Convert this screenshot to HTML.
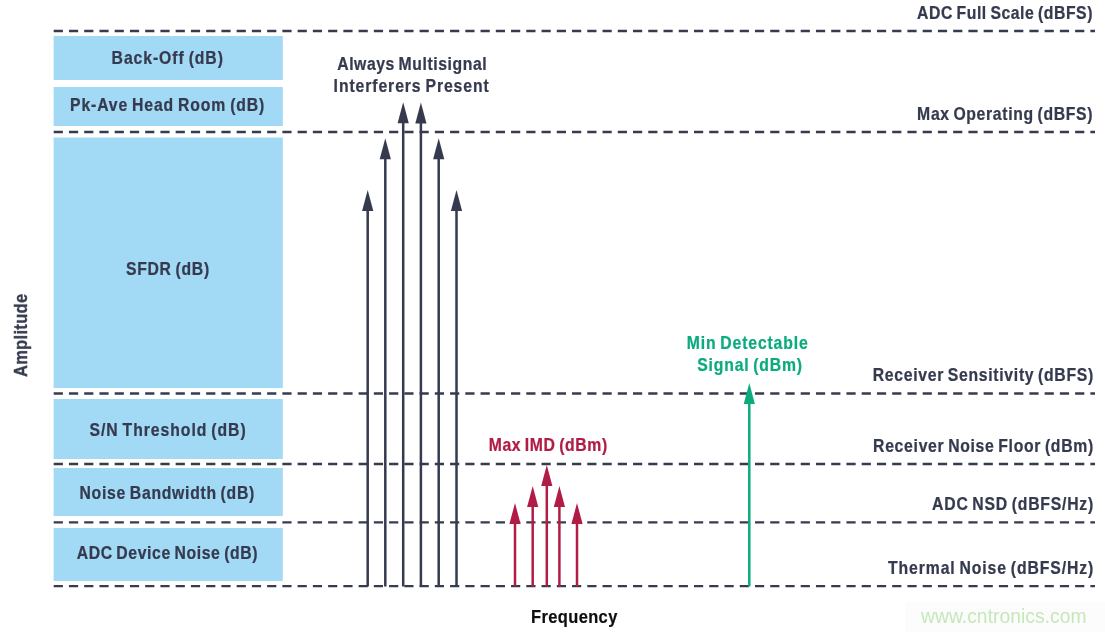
<!DOCTYPE html>
<html><head><meta charset="utf-8"><style>
html,body{margin:0;padding:0;background:#fff;width:1105px;height:632px;overflow:hidden}
svg{display:block}
text{font-family:"Liberation Sans", sans-serif;will-change:transform}
</style></head><body>
<svg width="1105" height="632" viewBox="0 0 1105 632"><rect x="53.6" y="36" width="229.2" height="44.00" fill="#a2d9f5"/>
<rect x="53.6" y="87" width="229.2" height="39.00" fill="#a2d9f5"/>
<rect x="53.6" y="137.5" width="229.2" height="250.50" fill="#a2d9f5"/>
<rect x="53.6" y="399" width="229.2" height="60.00" fill="#a2d9f5"/>
<rect x="53.6" y="468" width="229.2" height="48.00" fill="#a2d9f5"/>
<rect x="53.6" y="528" width="229.2" height="53.00" fill="#a2d9f5"/>
<line x1="53.7" y1="31" x2="1095" y2="31" stroke="#363b50" stroke-width="2.3" stroke-dasharray="9.2 6.045"/>
<line x1="53.7" y1="132" x2="1095" y2="132" stroke="#363b50" stroke-width="2.3" stroke-dasharray="9.2 6.045"/>
<line x1="53.7" y1="393.5" x2="1095" y2="393.5" stroke="#363b50" stroke-width="2.3" stroke-dasharray="9.2 6.045"/>
<line x1="53.7" y1="464" x2="1095" y2="464" stroke="#363b50" stroke-width="2.3" stroke-dasharray="9.2 6.045"/>
<line x1="53.7" y1="522.4" x2="1095" y2="522.4" stroke="#363b50" stroke-width="2.3" stroke-dasharray="9.2 6.045"/>
<line x1="53.7" y1="586.2" x2="1095" y2="586.2" stroke="#363b50" stroke-width="2.3" stroke-dasharray="9.2 6.045"/>
<line x1="367.7" y1="210" x2="367.7" y2="586.5" stroke="#353a4e" stroke-width="2.5"/><path d="M367.7 190 L373.3 211 L362.09999999999997 211 Z" fill="#353a4e"/>
<line x1="385.3" y1="158.2" x2="385.3" y2="586.5" stroke="#353a4e" stroke-width="2.5"/><path d="M385.3 138.2 L390.90000000000003 159.2 L379.7 159.2 Z" fill="#353a4e"/>
<line x1="403.2" y1="122.2" x2="403.2" y2="586.5" stroke="#353a4e" stroke-width="2.5"/><path d="M403.2 102.2 L408.8 123.2 L397.59999999999997 123.2 Z" fill="#353a4e"/>
<line x1="420.9" y1="122.4" x2="420.9" y2="586.5" stroke="#353a4e" stroke-width="2.5"/><path d="M420.9 102.4 L426.5 123.4 L415.29999999999995 123.4 Z" fill="#353a4e"/>
<line x1="438.7" y1="158.2" x2="438.7" y2="586.5" stroke="#353a4e" stroke-width="2.5"/><path d="M438.7 138.2 L444.3 159.2 L433.09999999999997 159.2 Z" fill="#353a4e"/>
<line x1="456.5" y1="210" x2="456.5" y2="586.5" stroke="#353a4e" stroke-width="2.5"/><path d="M456.5 190 L462.1 211 L450.9 211 Z" fill="#353a4e"/>
<line x1="515" y1="523" x2="515" y2="586.5" stroke="#b01c45" stroke-width="2.5"/><path d="M515 503 L520.6 524 L509.4 524 Z" fill="#b01c45"/>
<line x1="532.7" y1="506" x2="532.7" y2="586.5" stroke="#b01c45" stroke-width="2.5"/><path d="M532.7 486 L538.3000000000001 507 L527.1 507 Z" fill="#b01c45"/>
<line x1="546.8" y1="485" x2="546.8" y2="586.5" stroke="#b01c45" stroke-width="2.5"/><path d="M546.8 465 L552.4 486 L541.1999999999999 486 Z" fill="#b01c45"/>
<line x1="559.4" y1="506" x2="559.4" y2="586.5" stroke="#b01c45" stroke-width="2.5"/><path d="M559.4 486 L565.0 507 L553.8 507 Z" fill="#b01c45"/>
<line x1="577" y1="523" x2="577" y2="586.5" stroke="#b01c45" stroke-width="2.5"/><path d="M577 503 L582.6 524 L571.4 524 Z" fill="#b01c45"/>
<line x1="749.3" y1="403" x2="749.3" y2="586.5" stroke="#0bab7e" stroke-width="2.5"/><path d="M749.3 383 L754.9 404 L743.6999999999999 404 Z" fill="#0bab7e"/>
<rect x="905" y="602" width="200" height="30" fill="#fcfcfc"/>
<text transform="translate(917.10,18.50) scale(0.9,1)" x="0" y="0" font-family="Liberation Sans" font-weight="bold" font-size="17.50" fill="#353a4e" stroke="#353a4e" stroke-width="0.25" word-spacing="-1.5" textLength="194.78" lengthAdjust="spacing">ADC Full Scale (dBFS)</text>
<text transform="translate(917.10,119.50) scale(0.9,1)" x="0" y="0" font-family="Liberation Sans" font-weight="bold" font-size="17.50" fill="#353a4e" stroke="#353a4e" stroke-width="0.25" word-spacing="-1.5" textLength="194.78" lengthAdjust="spacing">Max Operating (dBFS)</text>
<text transform="translate(872.70,381.10) scale(0.9,1)" x="0" y="0" font-family="Liberation Sans" font-weight="bold" font-size="17.50" fill="#353a4e" stroke="#353a4e" stroke-width="0.25" word-spacing="-1.5" textLength="245.00" lengthAdjust="spacing">Receiver Sensitivity (dBFS)</text>
<text transform="translate(873.10,451.50) scale(0.9,1)" x="0" y="0" font-family="Liberation Sans" font-weight="bold" font-size="17.50" fill="#353a4e" stroke="#353a4e" stroke-width="0.25" word-spacing="-1.5" textLength="244.56" lengthAdjust="spacing">Receiver Noise Floor (dBm)</text>
<text transform="translate(932.10,510.00) scale(0.9,1)" x="0" y="0" font-family="Liberation Sans" font-weight="bold" font-size="17.50" fill="#353a4e" stroke="#353a4e" stroke-width="0.25" word-spacing="-1.5" textLength="179.00" lengthAdjust="spacing">ADC NSD (dBFS/Hz)</text>
<text transform="translate(888.10,573.60) scale(0.9,1)" x="0" y="0" font-family="Liberation Sans" font-weight="bold" font-size="17.50" fill="#353a4e" stroke="#353a4e" stroke-width="0.25" word-spacing="-1.5" textLength="227.89" lengthAdjust="spacing">Thermal Noise (dBFS/Hz)</text>
<text transform="translate(111.60,63.90) scale(0.9,1)" x="0" y="0" font-family="Liberation Sans" font-weight="bold" font-size="17.50" fill="#353a4e" stroke="#353a4e" stroke-width="0.25" word-spacing="-1.5" textLength="123.67" lengthAdjust="spacing">Back-Off (dB)</text>
<text transform="translate(70.00,110.70) scale(0.9,1)" x="0" y="0" font-family="Liberation Sans" font-weight="bold" font-size="17.50" fill="#353a4e" stroke="#353a4e" stroke-width="0.25" word-spacing="-1.5" textLength="215.89" lengthAdjust="spacing">Pk-Ave Head Room (dB)</text>
<text transform="translate(125.90,274.90) scale(0.9,1)" x="0" y="0" font-family="Liberation Sans" font-weight="bold" font-size="17.50" fill="#353a4e" stroke="#353a4e" stroke-width="0.25" word-spacing="-1.5" textLength="92.56" lengthAdjust="spacing">SFDR (dB)</text>
<text transform="translate(89.50,435.50) scale(0.9,1)" x="0" y="0" font-family="Liberation Sans" font-weight="bold" font-size="17.50" fill="#353a4e" stroke="#353a4e" stroke-width="0.25" word-spacing="-1.5" textLength="173.56" lengthAdjust="spacing">S/N Threshold (dB)</text>
<text transform="translate(79.50,498.90) scale(0.9,1)" x="0" y="0" font-family="Liberation Sans" font-weight="bold" font-size="17.50" fill="#353a4e" stroke="#353a4e" stroke-width="0.25" word-spacing="-1.5" textLength="194.22" lengthAdjust="spacing">Noise Bandwidth (dB)</text>
<text transform="translate(76.70,558.60) scale(0.9,1)" x="0" y="0" font-family="Liberation Sans" font-weight="bold" font-size="17.50" fill="#353a4e" stroke="#353a4e" stroke-width="0.25" word-spacing="-1.5" textLength="200.89" lengthAdjust="spacing">ADC Device Noise (dB)</text>
<text transform="translate(337.20,69.80) scale(0.9,1)" x="0" y="0" font-family="Liberation Sans" font-weight="bold" font-size="17.50" fill="#353a4e" stroke="#353a4e" stroke-width="0.25" word-spacing="-1.5" textLength="166.00" lengthAdjust="spacing">Always Multisignal</text>
<text transform="translate(333.60,91.50) scale(0.9,1)" x="0" y="0" font-family="Liberation Sans" font-weight="bold" font-size="17.50" fill="#353a4e" stroke="#353a4e" stroke-width="0.25" word-spacing="-1.5" textLength="172.33" lengthAdjust="spacing">Interferers Present</text>
<text transform="translate(488.70,451.00) scale(0.9,1)" x="0" y="0" font-family="Liberation Sans" font-weight="bold" font-size="17.50" fill="#b01c45" stroke="#b01c45" stroke-width="0.25" word-spacing="-1.5" textLength="131.67" lengthAdjust="spacing">Max IMD (dBm)</text>
<text transform="translate(686.70,349.20) scale(0.9,1)" x="0" y="0" font-family="Liberation Sans" font-weight="bold" font-size="17.50" fill="#0bab7e" stroke="#0bab7e" stroke-width="0.25" word-spacing="-1.5" textLength="134.44" lengthAdjust="spacing">Min Detectable</text>
<text transform="translate(697.30,370.50) scale(0.9,1)" x="0" y="0" font-family="Liberation Sans" font-weight="bold" font-size="17.50" fill="#0bab7e" stroke="#0bab7e" stroke-width="0.25" word-spacing="-1.5" textLength="116.33" lengthAdjust="spacing">Signal (dBm)</text>
<text transform="translate(531.00,622.70) scale(0.93,1)" x="0" y="0" font-family="Liberation Sans" font-weight="bold" font-size="17.70" fill="#0d0d0d" stroke="#0d0d0d" stroke-width="0.2" textLength="92.80" lengthAdjust="spacing">Frequency</text>
<text transform="translate(27.00,377.00) rotate(-90) scale(0.93,1)" x="0" y="0" font-family="Liberation Sans" font-weight="bold" font-size="17.70" fill="#353a4e" stroke="#353a4e" stroke-width="0.3" textLength="89.46" lengthAdjust="spacing">Amplitude</text>
<text transform="translate(921.00,622.60) scale(0.965,1)" x="0" y="0" font-family="Liberation Sans" font-weight="normal" font-size="20.00" fill="#c6e7b9" textLength="171.61" lengthAdjust="spacing">www.cntronics.com</text></svg>
</body></html>
